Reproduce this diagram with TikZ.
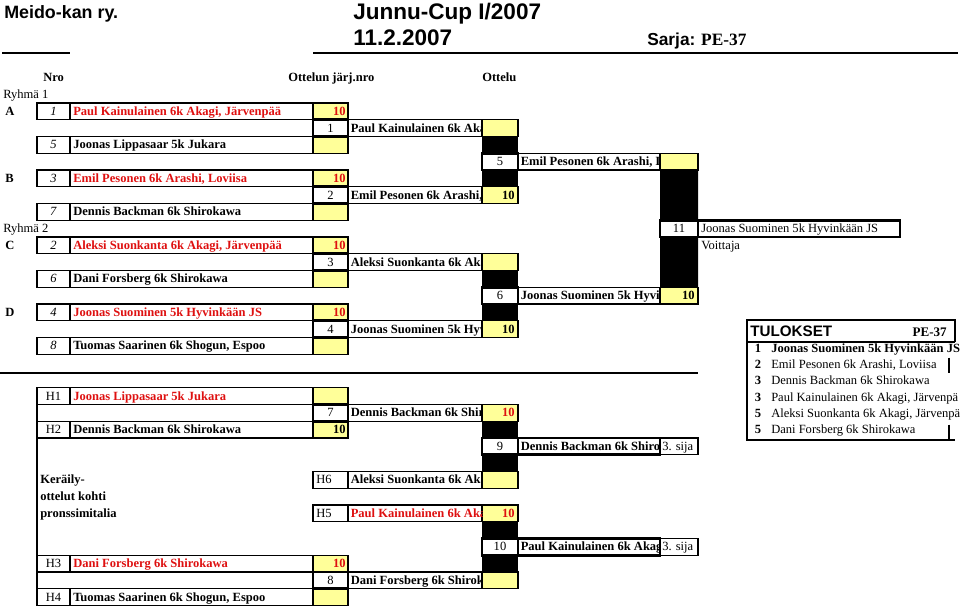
\documentclass[tikz,border=0pt]{standalone}
\usepackage{fontspec}
\setmainfont{Liberation Serif}
\newfontfamily\headsans{Liberation Sans}
\usetikzlibrary{positioning}

\definecolor{winred}{RGB}{222,16,16}
\definecolor{celly}{RGB}{255,255,153}
\newcommand\bodysize{\fontsize{9.4}{11}\selectfont}

% name of a fighter, cut off at the right edge of its cell
\newcommand\clipname[6]{% node name, left, right, row, colour, text
  \begin{scope}
    \clip (#2,#4) rectangle (#3,#4+1);
    \node[lbl,text=#5] (#1) at (#2+2.5,#4+0.74) {#6};
  \end{scope}}

\begin{document}
\begin{tikzpicture}[x=0.75pt,y=-12.5625pt,font=\bodysize,
    cell/.style={draw,line width=1.1pt},
    numcell/.style={draw,line width=2pt,fill=white},
    ycell/.style={draw,line width=1.1pt,fill=celly},
    lbl/.style={anchor=base west,inner sep=0pt},
    rlbl/.style={anchor=base east,inner sep=0pt},
    clbl/.style={anchor=base,inner sep=0pt}]
  \useasboundingbox (0,-6.149) rectangle (960,30.03);

  % heading
  \node[lbl,font=\headsans\bfseries\fontsize{13.4}{15}\selectfont] (club) at (4,-5.07) {Meido-kan ry.};
  \node[lbl,font=\headsans\bfseries\fontsize{16.9}{19}\selectfont] (cup) at (353,-4.99) {Junnu-Cup I/2007};
  \node[lbl,font=\headsans\bfseries\fontsize{16.9}{19}\selectfont] (date) at (353,-3.46) {11.2.2007};
  \node[lbl,font=\bfseries\fontsize{13}{15}\selectfont] (sarja) at (647,-3.46) {{\headsans Sarja:} PE-37};
  \draw[line width=1.5pt] (2,-2.985) -- (70,-2.985) (313,-2.985) -- (958,-2.985);

  \node[lbl] (hnro) at (43,-1.26) {\bfseries Nro};
  \node[lbl] (hjarj) at (288,-1.26) {\bfseries Ottelun järj.nro};
  \node[lbl] (hott) at (482,-1.26) {\bfseries Ottelu};
  \node[lbl] (ryh1) at (3,-0.26) {Ryhmä 1};
  \node[lbl] (ryh2) at (3,7.74) {Ryhmä 2};

  % black fills between the rounds
  \foreach \r in {2,4,10,12,19,21,25,27}
    \fill (482,\r) rectangle (518,\r+1);
  \fill (660,4) rectangle (698,7) (660,8) rectangle (698,11);

  % first round entries
  \draw[cell] (37,18) rectangle (313,19) (37,28) rectangle (313,29) (37,17) -- (37,30);
  \foreach \r/\g/\n/\p/\c/\s in {
      0/A/\textit{1}/{Paul Kainulainen 6k Akagi, Järvenpää}/winred/10,
      2/{}/\textit{5}/{Joonas Lippasaar 5k Jukara}/black/{},
      4/B/\textit{3}/{Emil Pesonen 6k Arashi, Loviisa}/winred/10,
      6/{}/\textit{7}/{Dennis Backman 6k Shirokawa}/black/{},
      8/C/\textit{2}/{Aleksi Suonkanta 6k Akagi, Järvenpää}/winred/10,
      10/{}/\textit{6}/{Dani Forsberg 6k Shirokawa}/black/{},
      12/D/\textit{4}/{Joonas Suominen 5k Hyvinkään JS}/winred/10,
      14/{}/\textit{8}/{Tuomas Saarinen 6k Shogun, Espoo}/black/{},
      17/{}/H1/{Joonas Lippasaar 5k Jukara}/winred/{},
      19/{}/H2/{Dennis Backman 6k Shirokawa}/black/10,
      27/{}/H3/{Dani Forsberg 6k Shirokawa}/winred/10,
      29/{}/H4/{Tuomas Saarinen 6k Shogun, Espoo}/black/{}}
  {
    \draw[cell] (37,\r) rectangle (313,\r+1) (70,\r) -- (70,\r+1);
    \draw[ycell] (313,\r) rectangle (348,\r+1);
    \node[lbl] (grp\r) at (5,\r+0.74) {\bfseries\g};
    \node[clbl] (nro\r) at (53.5,\r+0.74) {\n};
    \node[lbl,text=\c] (fig\r) at (73,\r+0.74) {\bfseries\p};
    \node[rlbl,text=\c] (pts\r) at (346,\r+0.74) {\bfseries\s};
  }

  % first round matches
  \foreach \r/\n/\p/\c/\s/\sc in {
      1/1/{Paul Kainulainen 6k Aka}/black/{}/black,
      5/2/{Emil Pesonen 6k Arashi,}/black/10/black,
      9/3/{Aleksi Suonkanta 6k Aka}/black/{}/black,
      13/4/{Joonas Suominen 5k Hyv}/black/10/black,
      18/7/{Dennis Backman 6k Shiro}/black/10/winred,
      28/8/{Dani Forsberg 6k Shiroka}/black/{}/black}
  {
    \draw[cell] (348,\r) rectangle (482,\r+1);
    \draw[ycell] (482,\r) rectangle (518,\r+1);
    \draw[numcell] (313,\r) rectangle (348,\r+1);
    \node[clbl] (m\n) at (330.5,\r+0.74) {\n};
    \clipname{win\n}{348}{482}{\r}{\c}{\bfseries\p}
    \node[rlbl,text=\sc] (pm\n) at (515,\r+0.74) {\bfseries\s};
  }

  % repechage entries
  \foreach \r/\n/\p/\c/\s in {
      22/H6/{Aleksi Suonkanta 6k Aka}/black/{},
      24/H5/{Paul Kainulainen 6k Aka}/winred/10}
  {
    \draw[cell] (313,\r) rectangle (348,\r+1) (348,\r) rectangle (482,\r+1);
    \draw[ycell] (482,\r) rectangle (518,\r+1);
    \node[lbl] (m\n) at (316,\r+0.74) {\n};
    \clipname{win\n}{348}{482}{\r}{\c}{\bfseries\p}
    \node[rlbl,text=\c] (pm\n) at (515,\r+0.74) {\bfseries\s};
  }
  \node[lbl] (ker1) at (40,22.74) {\bfseries Keräily-};
  \node[lbl] (ker2) at (40,23.74) {\bfseries ottelut kohti};
  \node[lbl] (ker3) at (40,24.74) {\bfseries pronssimitalia};

  % semifinals
  \foreach \r/\n/\p/\s in {
      3/5/{Emil Pesonen 6k Arashi, L}/{},
      11/6/{Joonas Suominen 5k Hyvin}/10}
  {
    \draw[cell] (518,\r) rectangle (660,\r+1);
    \draw[ycell] (660,\r) rectangle (698,\r+1);
    \draw[numcell] (482,\r) rectangle (518,\r+1);
    \node[clbl] (m\n) at (500,\r+0.74) {\n};
    \clipname{win\n}{518}{660}{\r}{black}{\bfseries\p}
    \node[rlbl] (pm\n) at (695,\r+0.74) {\bfseries\s};
  }

  % bronze matches
  \foreach \r/\n/\p in {
      20/9/{Dennis Backman 6k Shiro},
      26/10/{Paul Kainulainen 6k Akag}}
  {
    \draw[cell] (660,\r) rectangle (698,\r+1);
    \draw[numcell] (482,\r) rectangle (518,\r+1) (518,\r) rectangle (660,\r+1);
    \node[clbl] (m\n) at (500,\r+0.74) {\n};
    \clipname{win\n}{518}{660}{\r}{black}{\bfseries\p}
    \node[lbl] (sija\n) at (662,\r+0.74) {3. sija};
  }

  % final
  \draw[numcell] (660,7) rectangle (698,8) (698,7) rectangle (900,8);
  \node[clbl] (m11) at (679,7.74) {11};
  \node[lbl] (champ) at (701,7.74) {Joonas Suominen 5k Hyvinkään JS};
  \node[lbl] (voit) at (701,8.74) {Voittaja};

  \draw[line width=1.5pt] (0,16.12) -- (698,16.12);

  % results
  \draw[line width=1.3pt] (955,14.27) -- (955,12.955) -- (747,12.955) -- (747,20.119) -- (955,20.119)
    (747,14.27) -- (955,14.27) (949,15.2) -- (949,16.1) (949,19.2) -- (949,20.119);
  \node[lbl,font=\headsans\bfseries\fontsize{11.4}{13}\selectfont] (tul) at (750,13.95) {TULOKSET};
  \node[rlbl,font=\bfseries\fontsize{9.8}{11}\selectfont] (tser) at (947,13.95) {PE-37};
  \begin{scope}
    \clip (747,14.27) rectangle (960,20.119);
    \foreach \k/\n/\p in {
        0/1/{\bfseries Joonas Suominen 5k Hyvinkään JS},
        1/2/{Emil Pesonen 6k Arashi, Loviisa},
        2/3/{Dennis Backman 6k Shirokawa},
        3/3/{Paul Kainulainen 6k Akagi, Järvenpä},
        4/5/{Aleksi Suonkanta 6k Akagi, Järvenpä},
        5/5/{Dani Forsberg 6k Shirokawa}}
    {
      \node[clbl] (pl\k) at (758,14.9+0.964*\k) {\bfseries\n};
      \node[lbl] (res\k) at (771,14.9+0.964*\k) {\p};
    }
  \end{scope}
\end{tikzpicture}
\end{document}
